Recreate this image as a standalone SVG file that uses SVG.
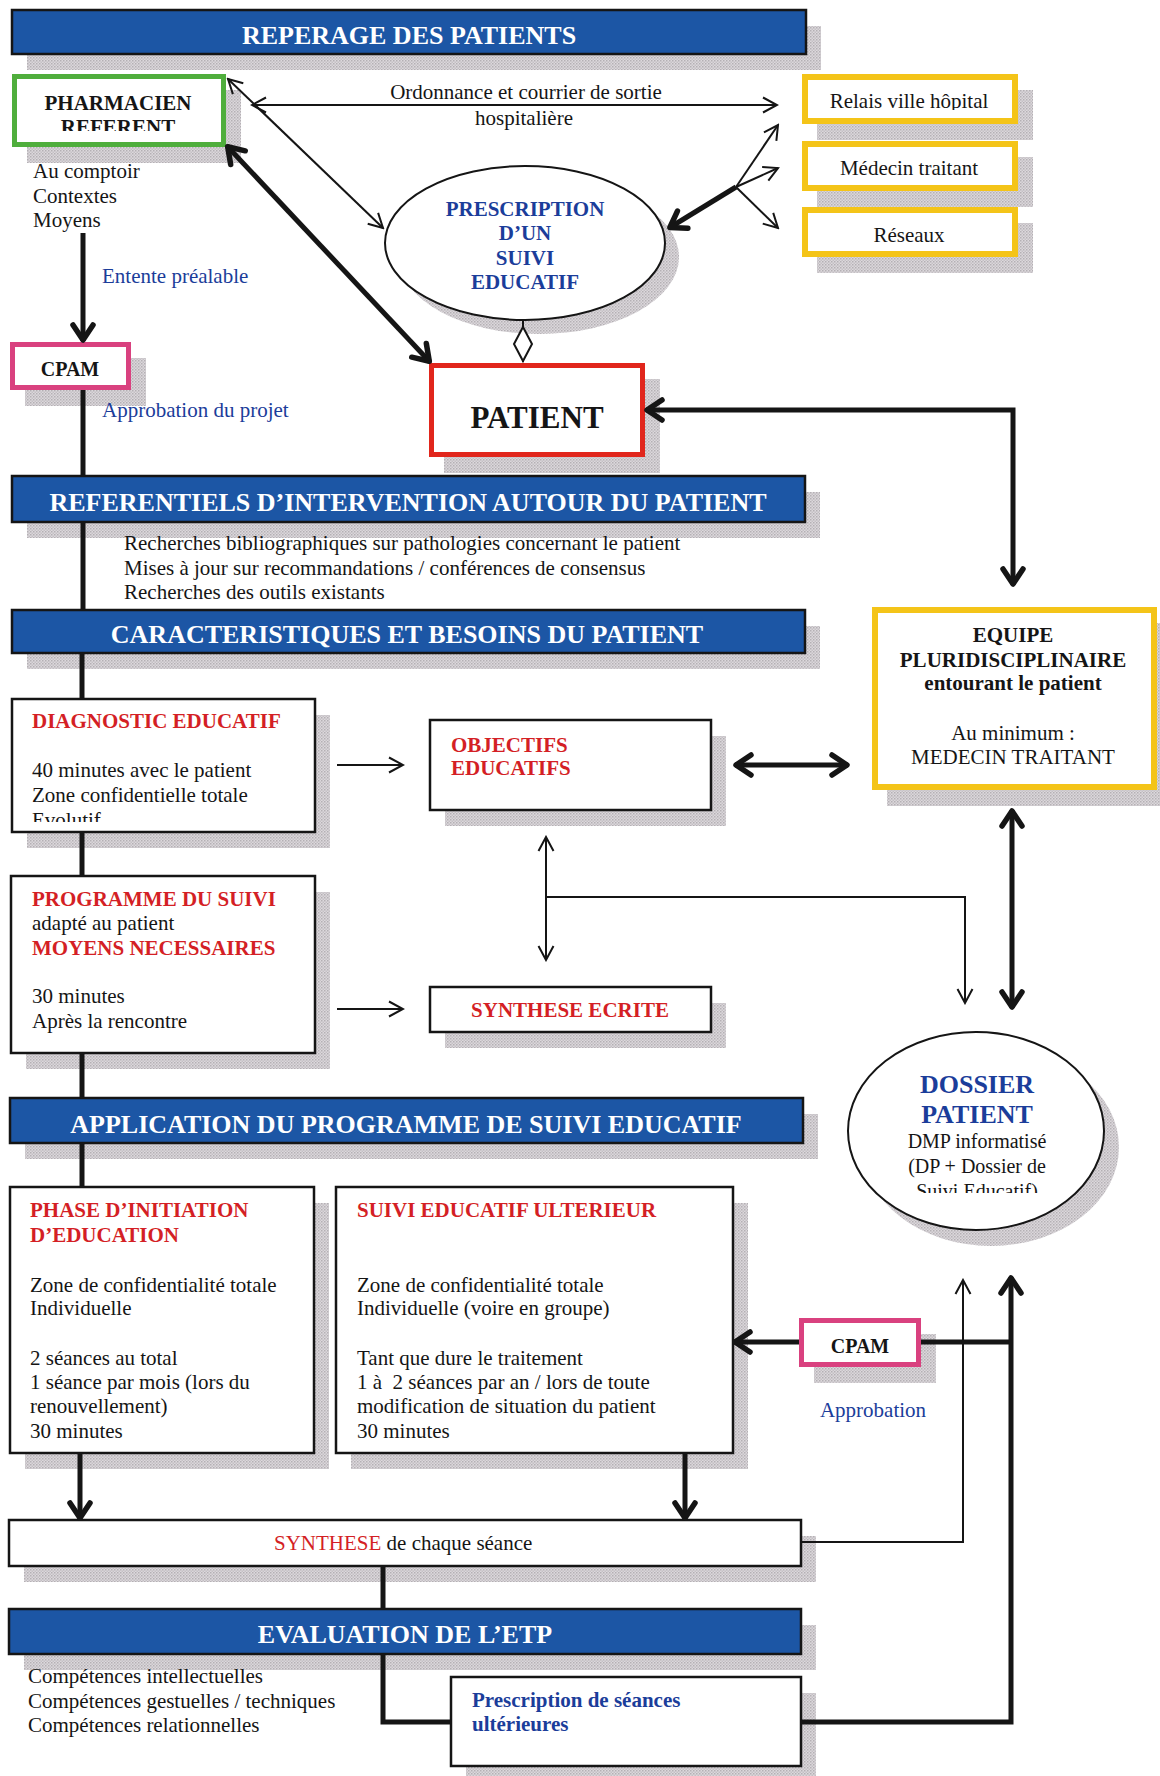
<svg xmlns="http://www.w3.org/2000/svg" width="1160" height="1776" viewBox="0 0 1160 1776">
<style>
text{font-family:"Liberation Serif","Times New Roman",serif;font-size:21px;fill:#151515}
.bt{font-size:26px;font-weight:bold;fill:#fff;text-anchor:middle}
.b{font-weight:bold}
.c{text-anchor:middle}
.red{fill:#d41f25}
.blue{fill:#1b3d9a}
.ban{fill:#1c56a5;stroke:#151515;stroke-width:2.5}
.sh{fill:url(#hatch)}
.box{fill:#fff;stroke:#151515;stroke-width:2.5}
.grn{fill:#fff;stroke:#4fae3c;stroke-width:5}
.yel{fill:#fff;stroke:#f4c418;stroke-width:6}
.pnk{fill:#fff;stroke:#d9417f;stroke-width:5}
.redb{fill:#fff;stroke:#e1261c;stroke-width:5}
.ell{fill:#fff;stroke:#151515;stroke-width:2}
.thin{fill:none;stroke:#151515;stroke-width:2}
.thick{fill:none;stroke:#151515;stroke-width:5}
</style>
<defs>
<pattern id="hatch" width="3" height="3" patternUnits="userSpaceOnUse"><rect width="3" height="3" fill="#dcd8dc"/><rect width="1.5" height="1.5" fill="#b4b0b4"/><rect x="1.5" y="1.5" width="1.5" height="1.5" fill="#c4c0c4"/></pattern>
<marker id="a" viewBox="-16 -9 18 18" markerWidth="18" markerHeight="18" refX="0" refY="0" orient="auto-start-reverse" markerUnits="userSpaceOnUse"><path d="M-14,-7.5 L0,0 L-14,7.5" fill="none" stroke="#151515" stroke-width="2"/></marker>
<marker id="A" viewBox="-22 -14 26 28" markerWidth="26" markerHeight="28" refX="0" refY="0" orient="auto-start-reverse" markerUnits="userSpaceOnUse"><path d="M-16,-10 L-1,0 L-16,10" fill="none" stroke="#151515" stroke-width="5.5" stroke-linecap="round" stroke-linejoin="round"/></marker>
<clipPath id="cRef"><rect x="16" y="78" width="205" height="53"/></clipPath>
<clipPath id="cRel"><rect x="807" y="79" width="206" height="31"/></clipPath>
<clipPath id="cEvo"><rect x="14" y="701" width="299" height="121"/></clipPath>
<clipPath id="cDos"><rect x="850" y="1034" width="254" height="159"/></clipPath>
</defs>

<!-- Banners -->
<g id="banner-reperage">
<rect class="sh" x="27" y="26" width="794" height="44"/>
<rect class="ban" x="12" y="10" width="794" height="44"/>
<text class="bt" x="409" y="44">REPERAGE DES PATIENTS</text>
</g>
<g id="banner-referentiels">
<rect class="sh" x="27" y="492" width="793" height="46"/>
<rect class="ban" x="12" y="476" width="793" height="46"/>
<text class="bt" x="408" y="511">REFERENTIELS D’INTERVENTION AUTOUR DU PATIENT</text>
</g>
<g id="banner-caracteristiques">
<rect class="sh" x="27" y="626" width="793" height="43"/>
<rect class="ban" x="12" y="610" width="793" height="43"/>
<text class="bt" x="407" y="643">CARACTERISTIQUES ET BESOINS DU PATIENT</text>
</g>
<g id="banner-application">
<rect class="sh" x="25" y="1114" width="793" height="45"/>
<rect class="ban" x="10" y="1098" width="793" height="45"/>
<text class="bt" x="406" y="1133">APPLICATION DU PROGRAMME DE SUIVI EDUCATIF</text>
</g>
<g id="banner-evaluation">
<rect class="sh" x="24" y="1625" width="792" height="45"/>
<rect class="ban" x="9" y="1609" width="792" height="45"/>
<text class="bt" x="405" y="1643">EVALUATION DE L’ETP</text>
</g>

<!-- Nodes -->
<g id="pharmacien">
<rect class="sh" x="27" y="90" width="214" height="73"/>
<rect class="grn" x="14.5" y="76.5" width="209" height="68"/>
<text class="b c" x="118" y="110">PHARMACIEN</text>
<text class="b c" x="118" y="134" clip-path="url(#cRef)">REFERENT</text>
<text x="33" y="178">Au comptoir</text>
<text x="33" y="203">Contextes</text>
<text x="33" y="227">Moyens</text>
</g>
<g id="relais">
<rect class="sh" x="817" y="90" width="216" height="50"/>
<rect class="yel" x="805" y="77" width="210" height="44"/>
<text class="c" x="909" y="108" clip-path="url(#cRel)">Relais ville hôpital</text>
</g>
<g id="medecin">
<rect class="sh" x="817" y="157" width="216" height="50"/>
<rect class="yel" x="805" y="144" width="210" height="44"/>
<text class="c" x="909" y="175">Médecin traitant</text>
</g>
<g id="reseaux">
<rect class="sh" x="817" y="223" width="216" height="50"/>
<rect class="yel" x="805" y="210" width="210" height="44"/>
<text class="c" x="909" y="242">Réseaux</text>
</g>
<g id="prescription">
<ellipse class="sh" cx="539" cy="257" rx="140" ry="77"/>
<ellipse class="ell" cx="525" cy="243" rx="140" ry="77"/>
<text class="b c blue" x="525" y="216">PRESCRIPTION</text>
<text class="b c blue" x="525" y="240">D’UN</text>
<text class="b c blue" x="525" y="265">SUIVI</text>
<text class="b c blue" x="525" y="289">EDUCATIF</text>
</g>
<g id="cpam1">
<rect class="sh" x="25" y="358" width="121" height="48"/>
<rect class="pnk" x="12.5" y="344.5" width="116" height="43"/>
<text class="b c" x="70" y="376" style="font-size:20px">CPAM</text>
<text class="blue" x="102" y="417">Approbation du projet</text>
</g>
<g id="patient">
<rect class="sh" x="444" y="379" width="216" height="94"/>
<rect class="redb" x="431.5" y="365.5" width="211" height="89"/>
<text class="b c" x="537" y="428" style="font-size:31px">PATIENT</text>
</g>
<g id="referentiels-texte">
<text x="124" y="550">Recherches bibliographiques sur pathologies concernant le patient</text>
<text x="124" y="575">Mises à jour sur recommandations / conférences de consensus</text>
<text x="124" y="599">Recherches des outils existants</text>
</g>
<g id="equipe">
<rect class="sh" x="887" y="623" width="285" height="183"/>
<rect class="yel" x="875" y="610" width="279" height="177"/>
<text class="b c" x="1013" y="642">EQUIPE</text>
<text class="b c" x="1013" y="667">PLURIDISCIPLINAIRE</text>
<text class="b c" x="1013" y="690">entourant le patient</text>
<text class="c" x="1013" y="740">Au minimum :</text>
<text class="c" x="1013" y="764">MEDECIN TRAITANT</text>
</g>
<g id="diagnostic">
<rect class="sh" x="27" y="715" width="303" height="133"/>
<rect class="box" x="12" y="699" width="303" height="133"/>
<text class="b red" x="32" y="728">DIAGNOSTIC EDUCATIF</text>
<text x="32" y="777">40 minutes avec le patient</text>
<text x="32" y="802">Zone confidentielle totale</text>
<text x="32" y="827" clip-path="url(#cEvo)">Evolutif</text>
</g>
<g id="objectifs">
<rect class="sh" x="445" y="736" width="281" height="90"/>
<rect class="box" x="430" y="720" width="281" height="90"/>
<text class="b red" x="451" y="752">OBJECTIFS</text>
<text class="b red" x="451" y="775">EDUCATIFS</text>
</g>
<g id="programme">
<rect class="sh" x="26" y="892" width="304" height="177"/>
<rect class="box" x="11" y="876" width="304" height="177"/>
<text class="b red" x="32" y="906">PROGRAMME DU SUIVI</text>
<text x="32" y="930">adapté au patient</text>
<text class="b red" x="32" y="955">MOYENS NECESSAIRES</text>
<text x="32" y="1003">30 minutes</text>
<text x="32" y="1028">Après la rencontre</text>
</g>
<g id="synthese-ecrite">
<rect class="sh" x="445" y="1003" width="281" height="45"/>
<rect class="box" x="430" y="987" width="281" height="45"/>
<text class="b c red" x="570" y="1017">SYNTHESE ECRITE</text>
</g>
<g id="dossier">
<ellipse class="sh" cx="991" cy="1147" rx="128" ry="99"/>
<ellipse class="ell" cx="976" cy="1131" rx="128" ry="99"/>
<text class="b c blue" x="977" y="1093" style="font-size:26px">DOSSIER</text>
<text class="b c blue" x="977" y="1123" style="font-size:26px">PATIENT</text>
<text class="c" x="977" y="1148" style="font-size:20px">DMP informatisé</text>
<text class="c" x="977" y="1173" style="font-size:20px">(DP + Dossier de</text>
<text class="c" x="977" y="1198" style="font-size:20px" clip-path="url(#cDos)">Suivi Educatif)</text>
</g>
<g id="phase-initiation">
<rect class="sh" x="25" y="1203" width="304" height="266"/>
<rect class="box" x="10" y="1187" width="304" height="266"/>
<text class="b red" x="30" y="1217">PHASE D’INITIATION</text>
<text class="b red" x="30" y="1242">D’EDUCATION</text>
<text x="30" y="1292">Zone de confidentialité totale</text>
<text x="30" y="1315">Individuelle</text>
<text x="30" y="1365">2 séances au total</text>
<text x="30" y="1389">1 séance par mois (lors du</text>
<text x="30" y="1413">renouvellement)</text>
<text x="30" y="1438">30 minutes</text>
</g>
<g id="suivi-ulterieur">
<rect class="sh" x="351" y="1203" width="397" height="266"/>
<rect class="box" x="336" y="1187" width="397" height="266"/>
<text class="b red" x="357" y="1217">SUIVI EDUCATIF ULTERIEUR</text>
<text x="357" y="1292">Zone de confidentialité totale</text>
<text x="357" y="1315">Individuelle (voire en groupe)</text>
<text x="357" y="1365">Tant que dure le traitement</text>
<text x="357" y="1389" xml:space="preserve">1 à  2 séances par an / lors de toute</text>
<text x="357" y="1413">modification de situation du patient</text>
<text x="357" y="1438">30 minutes</text>
</g>
<g id="cpam2">
<rect class="sh" x="814" y="1334" width="122" height="49"/>
<rect class="pnk" x="801.5" y="1320.5" width="117" height="44"/>
<text class="b c" x="860" y="1353" style="font-size:20px">CPAM</text>
<text class="c blue" x="873" y="1417">Approbation</text>
</g>
<g id="synthese-seance">
<rect class="sh" x="24" y="1536" width="792" height="46"/>
<rect class="box" x="9" y="1520" width="792" height="46"/>
<text x="274" y="1550"><tspan class="red">SYNTHESE</tspan> de chaque séance</text>
</g>
<g id="competences">
<text x="28" y="1683">Compétences intellectuelles</text>
<text x="28" y="1708">Compétences gestuelles / techniques</text>
<text x="28" y="1732">Compétences relationnelles</text>
</g>
<g id="prescription-seances">
<rect class="sh" x="466" y="1693" width="350" height="89"/>
<rect class="box" x="451" y="1677" width="350" height="89"/>
<text class="b blue" x="472" y="1707">Prescription de séances</text>
<text class="b blue" x="472" y="1731">ultérieures</text>
</g>

<!-- Connectors -->
<g id="connectors">
<text class="blue" x="102" y="283">Entente préalable</text>
<text class="c" x="526" y="99">Ordonnance et courrier de sortie</text>
<text class="c" x="524" y="125">hospitalière</text>
<line class="thin" x1="252" y1="105" x2="777" y2="105" marker-start="url(#a)" marker-end="url(#a)"/>
<line class="thin" x1="228" y1="79" x2="383" y2="228" marker-start="url(#a)" marker-end="url(#a)"/>
<line class="thick" x1="227" y1="146" x2="430" y2="362" stroke-width="6" marker-start="url(#A)" marker-end="url(#A)"/>
<line class="thick" x1="736" y1="187" x2="669" y2="228" stroke-width="6" marker-end="url(#A)"/>
<line class="thin" x1="736" y1="187" x2="778" y2="125" marker-end="url(#a)"/>
<line class="thin" x1="736" y1="187" x2="778" y2="168" marker-end="url(#a)"/>
<line class="thin" x1="736" y1="187" x2="778" y2="228" marker-end="url(#a)"/>
<line class="thin" x1="523" y1="320" x2="523" y2="362"/>
<polygon points="523,327 532,344 523,361 514,344" fill="#fff" stroke="#151515" stroke-width="2"/>
<line class="thick" x1="83" y1="233" x2="83" y2="341" marker-end="url(#A)"/>
<line class="thick" x1="83" y1="390" x2="83" y2="476"/>
<line class="thick" x1="83" y1="522" x2="83" y2="610"/>
<line class="thick" x1="82" y1="653" x2="82" y2="699"/>
<line class="thick" x1="82" y1="832" x2="82" y2="876"/>
<line class="thick" x1="82" y1="1053" x2="82" y2="1098"/>
<line class="thick" x1="82" y1="1143" x2="82" y2="1187"/>
<path class="thick" d="M646,410 H1013 V585" marker-start="url(#A)" marker-end="url(#A)"/>
<line class="thin" x1="337" y1="765" x2="403" y2="765" marker-end="url(#a)"/>
<line class="thick" x1="735" y1="765" x2="848" y2="765" marker-start="url(#A)" marker-end="url(#A)"/>
<line class="thin" x1="546" y1="837" x2="546" y2="960" marker-start="url(#a)" marker-end="url(#a)"/>
<path class="thin" d="M546,897 H965 V1003" marker-end="url(#a)"/>
<line class="thick" x1="1012" y1="810" x2="1012" y2="1008" marker-start="url(#A)" marker-end="url(#A)"/>
<line class="thin" x1="337" y1="1009" x2="403" y2="1009" marker-end="url(#a)"/>
<line class="thick" x1="80" y1="1453" x2="80" y2="1519" marker-end="url(#A)"/>
<line class="thick" x1="685" y1="1453" x2="685" y2="1519" marker-end="url(#A)"/>
<line class="thick" x1="799" y1="1342" x2="734" y2="1342" marker-end="url(#A)"/>
<line class="thick" x1="921" y1="1342" x2="1011" y2="1342"/>
<path class="thin" d="M801,1542 H963 V1280" marker-end="url(#a)"/>
<line class="thick" x1="383" y1="1566" x2="383" y2="1609" stroke-width="3.5"/>
<path class="thick" d="M383,1654 V1722 H451" stroke-width="4.5"/>
<path class="thick" d="M801,1722 H1011 V1277" stroke-width="4.5" marker-end="url(#A)"/>
</g>
</svg>
